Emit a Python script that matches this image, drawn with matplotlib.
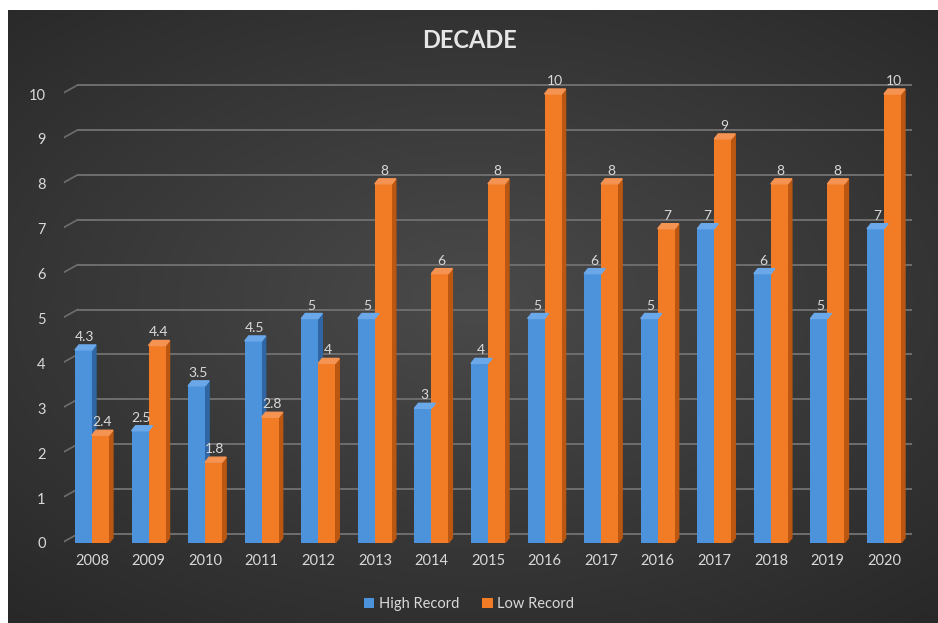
import numpy as np
import matplotlib.pyplot as plt
from matplotlib.patches import Polygon
from matplotlib.transforms import IdentityTransform

years = ["2008", "2009", "2010", "2011", "2012", "2013", "2014", "2015",
         "2016", "2017", "2016", "2017", "2018", "2019", "2020"]
high_record = [4.3, 2.5, 3.5, 4.5, 5, 5, 3, 4, 5, 6, 5, 7, 6, 5, 7]
low_record = [2.4, 4.4, 1.8, 2.8, 4, 8, 6, 8, 10, 8, 7, 9, 8, 8, 10]
y_ticks = list(range(0, 11))

W, H = 938, 623
plt.rcParams['font.family'] = ['Lato', 'DejaVu Sans']
fig = plt.figure(figsize=(W / 100, H / 100), dpi=100, facecolor='white')

# dark panel with a soft radial gradient
bg = fig.add_axes([8 / W, 0, 1 - 8 / W, 1 - 10 / H])
gx, gy = np.meshgrid(np.linspace(-1, 1, 400), np.linspace(-1, 1, 300))
r = np.sqrt((gx * 0.9) ** 2 + ((gy + 0.05) * 1.0) ** 2)
shade = np.clip(1 - r / 1.35, 0, 1)
img = 0.16 + 0.13 * shade
bg.imshow(np.dstack([img, img, img]), aspect='auto', extent=(0, 1, 0, 1))
bg.set_axis_off()

# plot area (front plane): 0 -> y=543 px, ~44.9 px per unit
unit = 44.9
ymax = 10.8
left_px, right_px = 63.7, 912.3
bottom_px = 543
ax = fig.add_axes([left_px / W, (H - bottom_px) / H,
                   (right_px - left_px) / W, ymax * unit / H])
ax.set_xlim(-0.5, len(years) - 0.5)
ax.set_ylim(0, ymax)
ax.patch.set_alpha(0)
for s in ax.spines.values():
    s.set_visible(False)

grid_c = '#6e6e6e'
depth_x, depth_y = 14, 9   # back wall offset in pixels

fig.canvas.draw()
to_px = ax.transData.transform

# gridlines on the back wall plus diagonal stubs on the floor edge
for t in y_ticks:
    x0, y0 = to_px((-0.5, t))
    x1, _ = to_px((len(years) - 0.5, t))
    ax.add_line(plt.Line2D([x0 + depth_x, x1 + depth_x],
                           [y0 + depth_y, y0 + depth_y],
                           transform=IdentityTransform(), color=grid_c,
                           lw=1.4, zorder=0))
    ax.add_line(plt.Line2D([x0 - 4, x0 + depth_x], [y0 - 1, y0 + depth_y],
                           transform=IdentityTransform(), color=grid_c,
                           lw=1.2, zorder=0))

x = np.arange(len(years))
bw = 0.30
series = [
    (high_record, -bw / 2, '#4d93dc', '#2f66a3', '#6ba8ea', 'High Record'),
    (low_record, bw / 2, '#f27c25', '#bb5710', '#f59352', 'Low Record'),
]
bar_dx, bar_dy = 4, 5

for vals, off, face, side, top, name in series:
    ax.bar(x + off, vals, width=bw, color=face, zorder=3, label=name)
    for xi, v in zip(x, vals):
        xl, yb = to_px((xi + off - bw / 2, 0))
        xr, yt = to_px((xi + off + bw / 2, v))
        # right side face
        ax.add_patch(Polygon([(xr, yb), (xr + bar_dx, yb + bar_dy),
                              (xr + bar_dx, yt + bar_dy), (xr, yt)],
                             closed=True, transform=IdentityTransform(),
                             color=side, zorder=2))
        # top face
        ax.add_patch(Polygon([(xl, yt), (xr, yt), (xr + bar_dx, yt + bar_dy),
                              (xl + bar_dx, yt + bar_dy)],
                             closed=True, transform=IdentityTransform(),
                             color=top, zorder=4))
        ax.annotate(f"{v:g}", (xi + off, v), xytext=(1, 5),
                    textcoords='offset points', ha='center', va='bottom',
                    fontsize=10, color='#d9d9d9', zorder=5)

ax.set_xticks(x)
ax.set_xticklabels(years)
ax.set_yticks(y_ticks)
ax.tick_params(length=0, labelsize=10.5, colors='#d9d9d9')
ax.tick_params(axis='x', pad=8)
ax.tick_params(axis='y', pad=13)

fig.text(0.5, (H - 40) / H, "DECADE", ha='center', va='center',
         fontsize=17, fontweight='bold', color='#e6e6e6')

leg = fig.legend(loc='center', bbox_to_anchor=(0.5, (H - 604) / H), ncol=2,
                 frameon=False, fontsize=10.5, handlelength=0.7,
                 handleheight=0.7, handletextpad=0.3, columnspacing=1.6)
for txt in leg.get_texts():
    txt.set_color('#d9d9d9')

fig.savefig("out.png", dpi=100)
